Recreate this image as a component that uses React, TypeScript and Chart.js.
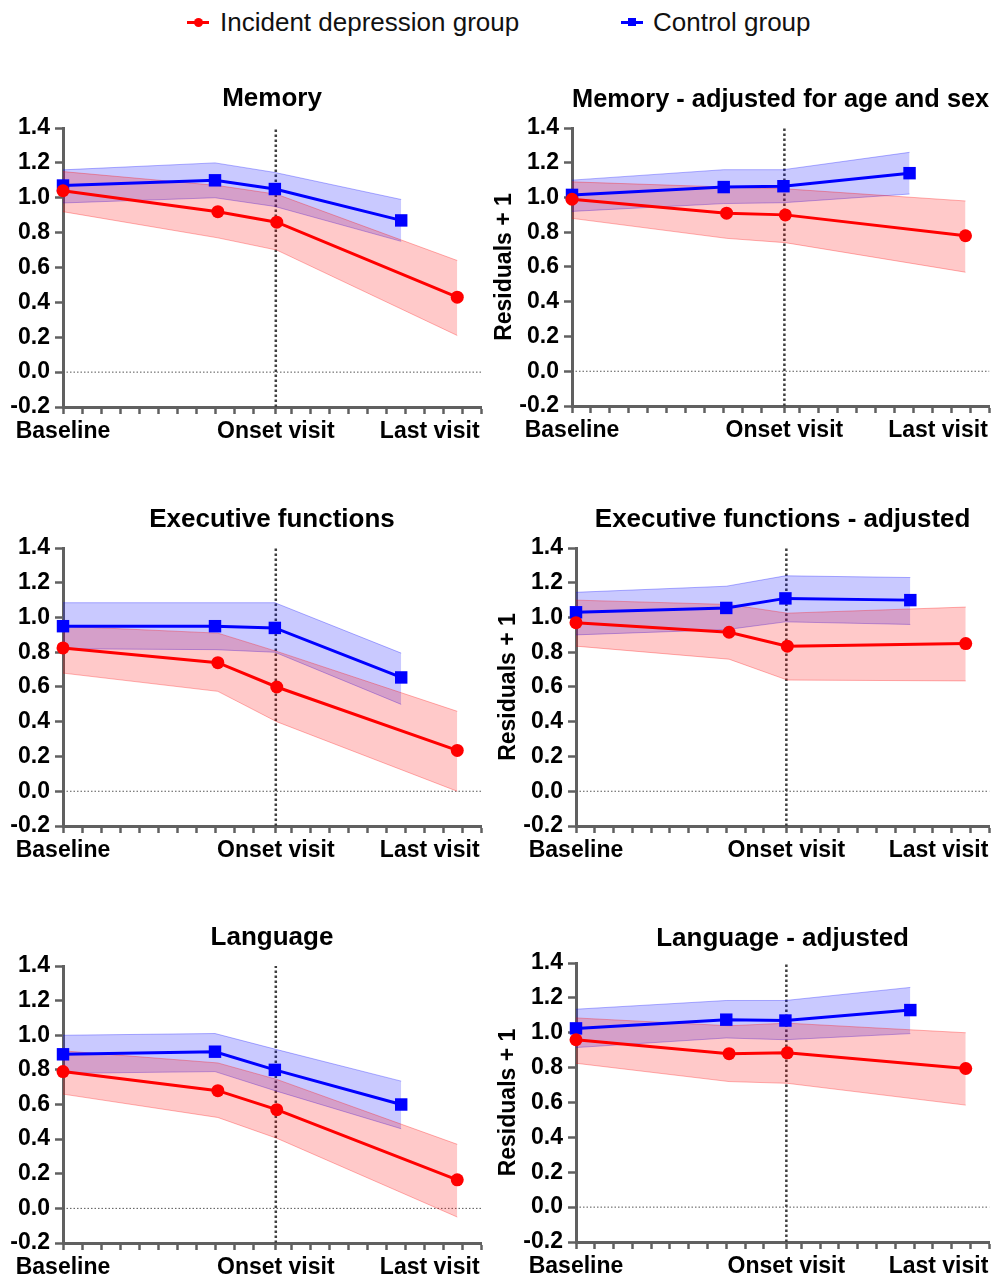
import React, { useEffect, useRef } from "react";
import { Chart, registerables } from "chart.js";

Chart.register(...registerables);

// ---------- x positions (time axis) ----------
const ONSET = 11.2;
const LAST_LABEL_AT = 19.3;
const X_RED = [0, 8.15, 11.25, 20.75];
const X_BLUE = [0, 8.0, 11.15, 17.8];
const X_TICK_VALUES = [0, 1, 2, 3, 4, 5, 6, 7, 8, 9, 10, ONSET, 12, 13, 14, 15, 16, 17, 18, 19, LAST_LABEL_AT, 20, 21, 22];
const X_TICK_LABELS: [number, string][] = [
  [0, "Baseline"],
  [ONSET, "Onset visit"],
  [LAST_LABEL_AT, "Last visit"],
];
const Y_TICK_VALUES = [-0.2, 0, 0.2, 0.4, 0.6, 0.8, 1.0, 1.2, 1.4];

const LEGEND_LABELS = ["Incident depression group", "Control group"];
const TITLES = [
  "Memory",
  "Memory - adjusted for age and sex",
  "Executive functions",
  "Executive functions - adjusted",
  "Language",
  "Language - adjusted",
];
const Y_TITLE = "Residuals + 1";

// ---------- Memory ----------
const memRedMean = [1.04, 0.92, 0.86, 0.43];
const memRedUpper = [1.15, 1.07, 1.02, 0.64];
const memRedLower = [0.92, 0.77, 0.7, 0.21];
const memBlueMean = [1.07, 1.1, 1.05, 0.87];
const memBlueUpper = [1.16, 1.2, 1.145, 0.99];
const memBlueLower = [0.97, 1.0, 0.95, 0.75];

// ---------- Memory adjusted ----------
const memAdjRedMean = [0.99, 0.91, 0.9, 0.78];
const memAdjRedUpper = [1.09, 1.06, 1.05, 0.98];
const memAdjRedLower = [0.88, 0.765, 0.74, 0.57];
const memAdjBlueMean = [1.015, 1.06, 1.065, 1.14];
const memAdjBlueUpper = [1.1, 1.16, 1.16, 1.26];
const memAdjBlueLower = [0.92, 0.965, 0.97, 1.02];

// ---------- Executive functions ----------
const exeRedMean = [0.825, 0.74, 0.6, 0.235];
const exeRedUpper = [0.95, 0.91, 0.805, 0.46];
const exeRedLower = [0.68, 0.575, 0.4, 0.0];
const exeBlueMean = [0.95, 0.95, 0.94, 0.655];
const exeBlueUpper = [1.085, 1.085, 1.085, 0.795];
const exeBlueLower = [0.82, 0.815, 0.8, 0.5];

// ---------- Executive functions adjusted ----------
const exeAdjRedMean = [0.97, 0.915, 0.835, 0.85];
const exeAdjRedUpper = [1.1, 1.075, 1.025, 1.06];
const exeAdjRedLower = [0.835, 0.76, 0.64, 0.635];
const exeAdjBlueMean = [1.03, 1.055, 1.11, 1.1];
const exeAdjBlueUpper = [1.145, 1.18, 1.24, 1.23];
const exeAdjBlueLower = [0.9, 0.93, 0.975, 0.96];

// ---------- Language ----------
const lanRedMean = [0.79, 0.68, 0.57, 0.165];
const lanRedUpper = [0.91, 0.84, 0.745, 0.37];
const lanRedLower = [0.66, 0.525, 0.405, -0.05];
const lanBlueMean = [0.89, 0.905, 0.8, 0.6];
const lanBlueUpper = [1.0, 1.01, 0.92, 0.735];
const lanBlueLower = [0.78, 0.79, 0.68, 0.46];

// ---------- Language adjusted ----------
const lanAdjRedMean = [0.96, 0.88, 0.885, 0.795];
const lanAdjRedUpper = [1.085, 1.04, 1.055, 1.0];
const lanAdjRedLower = [0.825, 0.72, 0.71, 0.585];
const lanAdjBlueMean = [1.025, 1.075, 1.07, 1.13];
const lanAdjBlueUpper = [1.135, 1.185, 1.185, 1.26];
const lanAdjBlueLower = [0.915, 0.97, 0.96, 0.995];

const PANEL_DATA = [
  [memRedMean, memRedUpper, memRedLower, memBlueMean, memBlueUpper, memBlueLower],
  [memAdjRedMean, memAdjRedUpper, memAdjRedLower, memAdjBlueMean, memAdjBlueUpper, memAdjBlueLower],
  [exeRedMean, exeRedUpper, exeRedLower, exeBlueMean, exeBlueUpper, exeBlueLower],
  [exeAdjRedMean, exeAdjRedUpper, exeAdjRedLower, exeAdjBlueMean, exeAdjBlueUpper, exeAdjBlueLower],
  [lanRedMean, lanRedUpper, lanRedLower, lanBlueMean, lanBlueUpper, lanBlueLower],
  [lanAdjRedMean, lanAdjRedUpper, lanAdjRedLower, lanAdjBlueMean, lanAdjBlueUpper, lanAdjBlueLower],
];

// ---------- layout (page pixels) ----------
type Geo = { left: number; top: number; right: number; bottom: number; titleY: number; adjusted: boolean; canvasRight: number };
const GEOS: Geo[] = [
  { left: 63, top: 128, right: 481, bottom: 407, titleY: 99, adjusted: false, canvasRight: 490 },
  { left: 572, top: 128, right: 990, bottom: 406, titleY: 100, adjusted: true, canvasRight: 998 },
  { left: 63, top: 548, right: 481, bottom: 826, titleY: 520, adjusted: false, canvasRight: 490 },
  { left: 576, top: 548, right: 993, bottom: 826, titleY: 520, adjusted: true, canvasRight: 998 },
  { left: 63, top: 966, right: 481, bottom: 1243, titleY: 938, adjusted: false, canvasRight: 490 },
  { left: 576, top: 963, right: 993, bottom: 1242, titleY: 939, adjusted: true, canvasRight: 998 },
];

const FONT = "'Liberation Sans', Arial, Helvetica, sans-serif";
const RED = "#ff0000";
const BLUE = "#0000ff";
const AXIS = "#606060";
const TOP_BOX = 60;
const X_SCALE_H = 50;
const TITLE_SIZE = 26;

function pts(xs: number[], ys: number[]) {
  return ys.map((y, i) => ({ x: xs[i], y }));
}

function near(a: number, b: number) {
  return Math.abs(a - b) < 1e-6;
}

function makeConfig(idx: number, geo: Geo, yScaleW: number, padRight: number): any {
  const [rm, ru, rl, bm, bu, bl] = PANEL_DATA[idx];
  const half = (TITLE_SIZE * 1.2) / 2;
  const titleTop = geo.titleY - (geo.top - TOP_BOX) - half;
  const titleBottom = TOP_BOX - titleTop - TITLE_SIZE * 1.2;
  return {
    type: "line",
    data: {
      datasets: [
        {
          data: pts(X_RED, rm),
          borderColor: RED,
          backgroundColor: RED,
          borderWidth: 3,
          pointRadius: 6.5,
          pointStyle: "circle",
          pointBackgroundColor: RED,
          pointBorderWidth: 0,
          fill: false,
          clip: false,
        },
        {
          data: pts(X_BLUE, bm),
          borderColor: BLUE,
          backgroundColor: BLUE,
          borderWidth: 3,
          pointRadius: 8.8,
          pointStyle: "rect",
          pointBackgroundColor: BLUE,
          pointBorderWidth: 0,
          fill: false,
          clip: false,
        },
        {
          data: pts(X_RED, ru),
          borderColor: "rgba(255,0,0,0.3)",
          borderWidth: 1,
          pointRadius: 0,
          fill: false,
          clip: false,
        },
        {
          data: pts(X_RED, rl),
          borderColor: "rgba(255,0,0,0.3)",
          borderWidth: 1,
          pointRadius: 0,
          fill: 2,
          backgroundColor: "rgba(255,0,0,0.21)",
          clip: false,
        },
        {
          data: pts(X_BLUE, bu),
          borderColor: "rgba(0,0,255,0.3)",
          borderWidth: 1,
          pointRadius: 0,
          fill: false,
          clip: false,
        },
        {
          data: pts(X_BLUE, bl),
          borderColor: "rgba(0,0,255,0.3)",
          borderWidth: 1,
          pointRadius: 0,
          fill: 4,
          backgroundColor: "rgba(0,0,255,0.21)",
          clip: false,
        },
        {
          data: [
            { x: 0, y: 0 },
            { x: 22, y: 0 },
          ],
          borderColor: "#555555",
          borderWidth: 1,
          borderDash: [1.5, 2],
          pointRadius: 0,
          fill: false,
          clip: false,
        },
        {
          data: [
            { x: ONSET, y: -0.2 },
            { x: ONSET, y: 1.4 },
          ],
          borderColor: "#3f3f3f",
          borderWidth: 2.5,
          borderDash: [2.5, 2.5],
          pointRadius: 0,
          fill: false,
          clip: false,
        },
      ],
    },
    options: {
      animation: false,
      responsive: false,
      maintainAspectRatio: false,
      events: [],
      layout: { padding: { left: 0, top: 0, bottom: 0, right: padRight } },
      plugins: {
        legend: { display: false },
        tooltip: { enabled: false },
        title: {
          display: true,
          text: TITLES[idx],
          fullSize: false,
          color: "#000",
          font: { family: FONT, size: TITLE_SIZE, weight: "bold", lineHeight: 1.2 },
          padding: { top: titleTop, bottom: titleBottom },
        },
      },
      scales: {
        x: {
          type: "linear",
          min: 0,
          max: 22,
          afterBuildTicks: (s: any) => {
            s.ticks = X_TICK_VALUES.map((v) => ({ value: v }));
          },
          afterFit: (s: any) => {
            s.height = X_SCALE_H;
          },
          grid: {
            display: true,
            drawOnChartArea: false,
            drawTicks: true,
            tickLength: 7,
            tickWidth: 2.5,
            tickColor: (ctx: any) =>
              ctx.tick && near(ctx.tick.value, LAST_LABEL_AT) ? "rgba(0,0,0,0)" : AXIS,
          },
          border: { display: true, color: AXIS, width: 3 },
          ticks: {
            autoSkip: false,
            maxRotation: 0,
            minRotation: 0,
            padding: 4,
            color: "#000",
            font: { family: FONT, size: 23, weight: "bold" },
            callback: (v: number) => {
              const hit = X_TICK_LABELS.find(([p]) => near(p, v));
              return hit ? hit[1] : "";
            },
          },
        },
        y: {
          type: "linear",
          min: -0.2,
          max: 1.4,
          afterBuildTicks: (s: any) => {
            s.ticks = Y_TICK_VALUES.map((v) => ({ value: v }));
          },
          afterFit: (s: any) => {
            s.width = yScaleW;
          },
          grid: {
            display: true,
            drawOnChartArea: false,
            drawTicks: true,
            tickLength: 8,
            tickWidth: 2.5,
            tickColor: AXIS,
          },
          border: { display: true, color: AXIS, width: 3 },
          ticks: {
            padding: 5,
            color: "#000",
            font: { family: FONT, size: 23, weight: "bold" },
            callback: (v: number) => (Math.abs(v) < 1e-9 ? 0 : v).toFixed(1),
          },
          title: {
            display: geo.adjusted,
            text: Y_TITLE,
            color: "#000",
            font: { family: FONT, size: 23, weight: "bold", lineHeight: 1.2 },
            padding: { top: 1, bottom: 0 },
          },
        },
      },
    },
  };
}

function Panel({ idx }: { idx: number }) {
  const ref = useRef<HTMLCanvasElement>(null);
  const geo = GEOS[idx];
  const yScaleW = geo.adjusted ? 82 : 63;
  const canvasLeft = geo.left - yScaleW;
  const canvasTop = geo.top - TOP_BOX;
  const width = geo.canvasRight - canvasLeft;
  const height = geo.bottom - geo.top + TOP_BOX + X_SCALE_H;
  const padRight = geo.canvasRight - geo.right;

  useEffect(() => {
    const chart = new Chart(ref.current as HTMLCanvasElement, makeConfig(idx, geo, yScaleW, padRight));
    return () => chart.destroy();
  }, []);

  return (
    <canvas
      ref={ref}
      width={width}
      height={height}
      style={{ position: "absolute", left: canvasLeft, top: canvasTop, width, height }}
    />
  );
}

function LegendItem({ x, textX, color, square, label }: { x: number; textX: number; color: string; square: boolean; label: string }) {
  return (
    <>
      <div style={{ position: "absolute", left: x, top: 20.5, width: 22, height: 3, background: color }} />
      <div
        style={{
          position: "absolute",
          left: x + 11 - (square ? 4 : 4.5),
          top: 22 - (square ? 4 : 4.5),
          width: square ? 8 : 9,
          height: square ? 8 : 9,
          borderRadius: square ? 0 : "50%",
          background: color,
        }}
      />
      <div
        style={{
          position: "absolute",
          left: textX,
          top: 9,
          fontFamily: FONT,
          fontSize: 26,
          lineHeight: "26px",
          color: "#111",
          whiteSpace: "nowrap",
        }}
      >
        {label}
      </div>
    </>
  );
}

export default function App() {
  return (
    <div style={{ position: "absolute", left: 0, top: 0, width: 998, height: 1278, background: "#fff", overflow: "hidden" }}>
      <LegendItem x={187} textX={220} color={RED} square={false} label={LEGEND_LABELS[0]} />
      <LegendItem x={621} textX={653} color={BLUE} square={true} label={LEGEND_LABELS[1]} />
      {TITLES.map((_, i) => (
        <Panel key={i} idx={i} />
      ))}
    </div>
  );
}
